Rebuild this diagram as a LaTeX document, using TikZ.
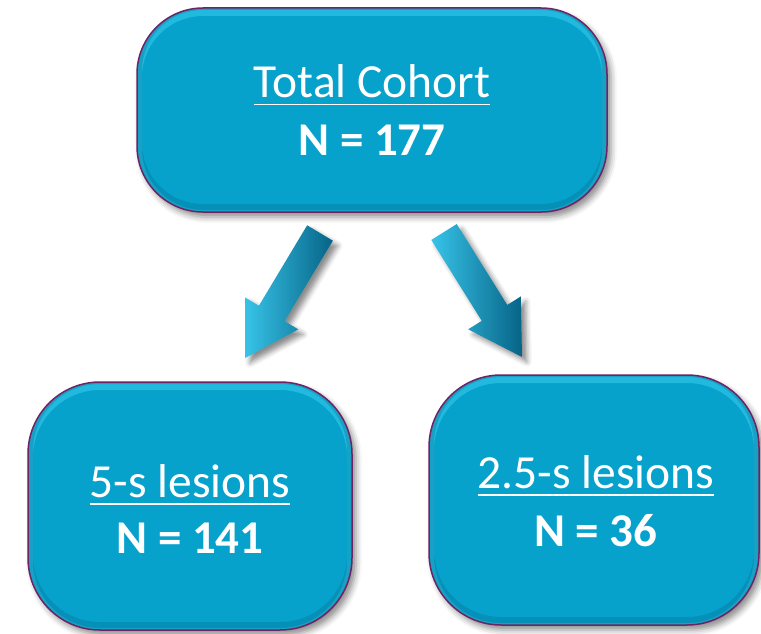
\documentclass[tikz,border=0pt]{standalone}
\usepackage{fontspec}
\setmainfont{Carlito}
\usetikzlibrary{calc,shadows.blur}

\definecolor{boxfill}{RGB}{6,162,204}
\definecolor{boxedge}{RGB}{110,35,100}
\definecolor{boxhi}{RGB}{70,215,245}
\definecolor{boxlow}{RGB}{3,105,140}
\definecolor{arrowlight}{RGB}{55,195,232}
\definecolor{arrowmid}{RGB}{10,150,195}
\definecolor{arrowdark}{RGB}{6,100,135}

% underlined heading with a rule scaled to the large type
\newcommand\headline[1]{\setbox0\hbox{#1}\rlap{\rule[-7.5pt]{\wd0}{2pt}}\box0}

\tikzset{
  box/.style={draw=boxedge, line width=1.5pt, fill=boxfill, rounded corners=#1,
    inner sep=0pt,
    blur shadow={shadow xshift=4pt, shadow yshift=-5pt, shadow blur radius=6pt, shadow opacity=45},
    path picture={
      \draw[rounded corners=#1, line width=10pt, draw=boxhi, opacity=.45]
        ([yshift=-3pt]path picture bounding box.south west) rectangle
        ([yshift=-3pt]path picture bounding box.north east);
      \draw[rounded corners=#1, line width=10pt, draw=boxlow, opacity=.3]
        ([yshift=3pt]path picture bounding box.south west) rectangle
        ([yshift=3pt]path picture bounding box.north east);
    }},
  heading/.style={text=white, font=\fontsize{47.5}{57}\selectfont, anchor=base, inner sep=0pt},
  count/.style={text=white, font=\fontsize{47}{57}\selectfont\bfseries, anchor=base, inner sep=0pt},
  blockarrow/.style={left color=arrowlight, middle color=arrowmid, right color=arrowdark,
    draw=none,
    blur shadow={shadow xshift=5pt, shadow yshift=-5pt, shadow blur radius=5pt, shadow opacity=45}}
}

% block arrow from tail centre #1 to tip #2
\newcommand\blockarrowpath[2]{%
  \coordinate (#1neck) at ($(#2)!52pt!(#1)$);
  \path[blockarrow]
    ($(#1)!15pt!90:(#2)$) --
    ($(#1neck)!15pt!-90:(#1)$) --
    ($(#1neck)!31pt!-90:(#1)$) --
    (#2) --
    ($(#1neck)!31pt!90:(#1)$) --
    ($(#1neck)!15pt!90:(#1)$) --
    ($(#1)!15pt!-90:(#2)$) -- cycle;
}

\begin{document}
\begin{tikzpicture}[x=1pt, y=-1pt]
  \useasboundingbox (0,0) rectangle (761,634);

  % boxes
  \node[box=66pt, minimum width=470pt, minimum height=204pt] (total) at (372,110) {};
  \node[box=72pt, minimum width=324pt, minimum height=248pt] (five) at (190,506) {};
  \node[box=72pt, minimum width=330pt, minimum height=250pt] (twohalf) at (594,500) {};

  % labels
  \node[heading] (totalhead) at ($(total.center)+(0,-12)$) {\headline{Total Cohort}};
  \node[count] (totaln) at ($(total.center)+(0,45)$) {N = 177};
  \node[heading] (fivehead) at ($(five.center)+(0,-9)$) {\headline{5-s lesions}};
  \node[count] (fiven) at ($(five.center)+(0,47)$) {N = 141};
  \node[heading] (twohalfhead) at ($(twohalf.center)+(2,-12)$) {\headline{2.5-s lesions}};
  \node[count] (twohalfn) at ($(twohalf.center)+(2,46)$) {N = 36};

  % arrows between the levels
  \coordinate (ltail) at (320,233);
  \coordinate (ltip) at (245,358);
  \coordinate (rtail) at (444,232);
  \coordinate (rtip) at (522,357);
  \blockarrowpath{ltail}{ltip}
  \blockarrowpath{rtail}{rtip}
\end{tikzpicture}
\end{document}
